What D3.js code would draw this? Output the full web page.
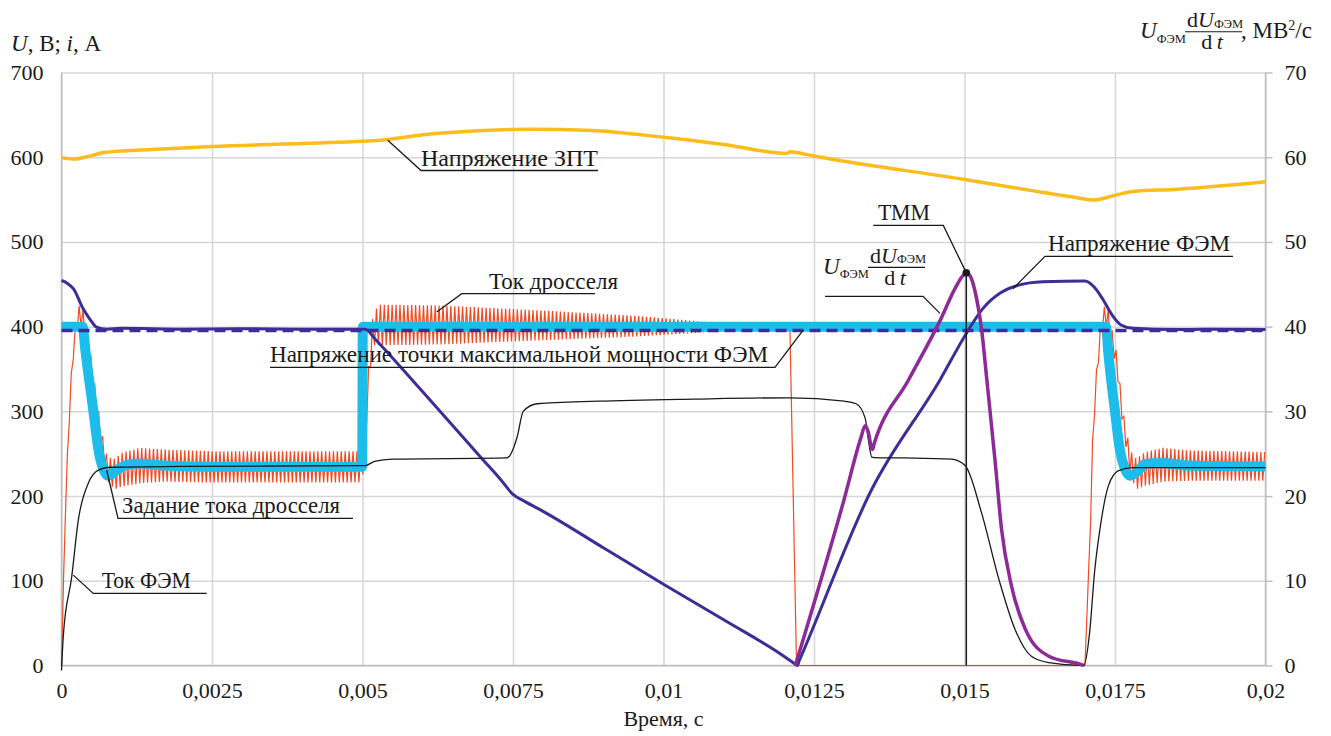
<!DOCTYPE html>
<html>
<head>
<meta charset="utf-8">
<script src="https://cdnjs.cloudflare.com/ajax/libs/d3/7.8.5/d3.min.js"></script>
<style>
  body { margin: 0; background: #fff; }
  svg text { font-family: 'Liberation Serif', 'Times New Roman', serif; fill: #1a1a1a; }
  .grid line { stroke: #d6d6d6; stroke-width: 1.5; }
  .grid path { display: none; }
  .axis path { display: none; }
  .axis line { stroke: #bfbfbf; stroke-width: 1.5; }
  .leader { stroke: #1a1a1a; stroke-width: 1.3; fill: none; }
</style>
</head>
<body>
<svg width="1331" height="736"></svg>
<script>
// ---- data (time in s, left axis in V / A, right axis in MV^2/s) ----
var xTicks = [0, 0.0025, 0.005, 0.0075, 0.01, 0.0125, 0.015, 0.0175, 0.02];
var xTickLabels = ["0", "0,0025", "0,005", "0,0075", "0,01", "0,0125", "0,015", "0,0175", "0,02"];
var leftTicks = [0, 100, 200, 300, 400, 500, 600, 700];
var rightTicks = [0, 10, 20, 30, 40, 50, 60, 70];

// DC link voltage
var dcLink = [[0,599.5],[0.0002,597.8],[0.00045,601],[0.0007,605.5],[0.0015,609],[0.0025,612.6],
  [0.005,618.9],[0.0053,620],[0.006,626.5],[0.007,631.5],[0.0078,633],[0.0088,631.5],[0.01,623.5],
  [0.011,615],[0.01205,604.5],[0.01211,606.5],[0.0122,605.5],[0.0125,601.5],[0.015,573.7],
  [0.0168,553],[0.01715,549.5],[0.0175,555],[0.0178,559.6],[0.0185,562],[0.02,571]];

// PV voltage
var pvVoltage = [[0,454.5],[0.0001,451],[0.0002,444.6],[0.00036,421],[0.00047,409],[0.00058,399.5],
  [0.00075,397],[0.001,398],[0.002,397],[0.003,397.5],[0.004,397],[0.00505,397],[0.0052,386],
  [0.006,323],[0.007,243],[0.0073,219],[0.0075,202],[0.0077,193.5],[0.008,182],[0.009,139],
  [0.01,96],[0.011,54],[0.012,11],[0.01218,2],[0.01222,0],[0.01226,6.5],[0.01346,208],[0.0146,338],
  [0.01503,392],[0.0153,421],[0.0156,440],[0.0159,449],[0.0163,453],[0.0170,454],[0.01715,447],
  [0.0173,432],[0.01745,414],[0.0176,402],[0.0178,398],[0.0185,396.5],[0.019,397],[0.02,396.5]];

// MPP voltage (dashed)
var mppVoltage = [[0,395.5],[0.02,395.5]];

// choke current reference
var currentRef = [[0,400],[0.00035,400],[0.0004,370],[0.00053,300],[0.00062,252],[0.0007,231],
  [0.00078,224],[0.0009,230],[0.0011,237],[0.0013,238.5],[0.0017,236],[0.0025,234.5],
  [0.004995,234.5],[0.005005,400],[0.01735,400],[0.01739,368],[0.0175,300],[0.01758,255],
  [0.01766,233],[0.01775,224],[0.0179,231],[0.018,238],[0.0183,239],[0.0187,236],[0.02,235]];

// choke current: mean value and ripple half-amplitude
var chokeT    = [0,0.00005,0.0001,0.00017,0.00024,0.0003,0.00036,0.00046,0.00056,0.00066,0.00076,0.00088,
  0.001,0.0013,0.0017,0.0025,0.00499,0.00502,0.00507,0.00512,0.00518,0.0053,0.0063,0.008,0.0096,
  0.0107,0.0112,0.0121,0.01221,0.017,0.01709,0.01713,0.0172,0.01728,0.01736,0.01753,0.01763,
  0.01775,0.01785,0.018,0.0183,0.0187,0.02];
var chokeMean = [0,150,250,350,400,415,408,370,318,268,232,226,
  231,236,236,234.5,234.5,240,300,360,398,402,402,401.5,400.5,
  399.5,399,399,0,0,160,267,350,405,415,358,291,
  240,226,232,237,236,235];
var chokeAmp  = [0,2,4,6,8,12,12,10,10,10,14,18,
  20,21,19,18.5,18.5,5,12,15,20,24,23,17.5,12,
  6,1,0,0,0,3,6,8,12,14,10,10,
  14,18,20,20,18,17];
var switchingPeriod = 0.000065;

// PV current
var pvCurrent = [[0,-6],[0.00003,35],[0.00017,105],[0.00028,172],[0.00045,216],[0.00062,231],
  [0.0008,234],[0.002,235],[0.00505,236],[0.0052,241],[0.0055,243.5],[0.0074,245],[0.00757,270],
  [0.00767,300],[0.0079,309],[0.0089,312],[0.0105,314.5],[0.0121,316],[0.0130,312],[0.0132,309],
  [0.01335,292],[0.0134,268],[0.01346,246],[0.0135,245.5],[0.014,245],[0.01478,243.5],[0.01501,236],
  [0.01528,181],[0.01557,102],[0.01584,42.6],[0.01611,11],[0.0164,3.5],[0.01698,0],[0.01708,40],
  [0.01716,110],[0.01725,161],[0.01739,212],[0.01756,230],[0.0178,233.5],[0.02,233.5]];

// U*dU/dt (right axis)
var powerDeriv = [[0.01219,0],[0.0130,19.6],[0.01328,26.9],[0.01335,28.3],[0.01341,27.3],
  [0.01345,25.8],[0.01347,25.5],[0.0135,26.2],[0.01407,33.7],[0.0146,40.8],[0.01485,44.6],
  [0.01497,46.0],[0.01503,46.35],[0.0151,45.9],[0.01518,44],[0.01529,39.3],[0.01537,33.8],
  [0.01551,24],[0.015615,16.1],[0.01578,9.4],[0.01601,4.3],[0.0164,1.1],[0.01694,0.1],[0.01698,0]];

var mppPoint = [0.01503, 46.35];

var notes = [
  {text: "Напряжение ЗПТ", tx: 0.005972, w: 177, x1: 0.005972, x2: 0.008912, y: 584.3, tip: [0.00542, 620]},
  {text: "Ток дросселя", tx: 0.007102, w: 129, x1: 0.006648, x2: 0.008862, y: 438.9, tip: [0.006233, 417.2]},
  {text: "Напряжение точки максимальной мощности ФЭМ", tx: 0.003463, w: 498, x1: 0.003463, x2: 0.011852, y: 352, tip: [0.012317, 395.6]},
  {text: "Задание тока дросселя", tx: 0.001005, w: 218, x1: 0.000939, x2: 0.004842, y: 173.6, tip: [0.000751, 230.5]},
  {text: "Ток ФЭМ", tx: 0.000668, w: 89, x1: 0.000528, x2: 0.002412, y: 85.1, tip: [0.000196, 106.7]},
  {text: "ТММ", tx: 0.013563, w: 52, x1: 0.013485, x2: 0.014648, y: 519.5, tip: [0.01503, 463.5]},
  {text: "", tx: 0, w: 0, x1: 0.012683, x2: 0.014311, y: 435.7, tip: [0.014593, 415.7]},
  {text: "Напряжение ФЭМ", tx: 0.016387, w: 182, x1: 0.016337, x2: 0.01946, y: 482.9, tip: [0.015806, 444.8]}
];

// ---- chart ----
var serif = "'Liberation Serif', 'Times New Roman', serif";
var svg = d3.select("svg");
var x = d3.scaleLinear().domain([0, 0.02]).range([61.5, 1265.5]);
var yL = d3.scaleLinear().domain([0, 700]).range([665.5, 72.5]);
var yR = d3.scaleLinear().domain([0, 70]).range([665.5, 72.5]);

svg.append("g").attr("class", "grid")
  .attr("transform", "translate(0,665.5)")
  .call(d3.axisBottom(x).tickValues(xTicks).tickSize(-593).tickFormat(""));
svg.append("g").attr("class", "grid")
  .attr("transform", "translate(61.5,0)")
  .call(d3.axisLeft(yL).tickValues(leftTicks).tickSize(-1204).tickFormat(""));

// axis lines
svg.append("line").attr("x1", x(0)).attr("x2", x(0)).attr("y1", yL(700)).attr("y2", yL(0))
  .attr("stroke", "#bfbfbf").attr("stroke-width", 1.5);
svg.append("line").attr("x1", x(0.02)).attr("x2", x(0.02)).attr("y1", yL(700)).attr("y2", yL(0))
  .attr("stroke", "#bfbfbf").attr("stroke-width", 1.5);
svg.append("line").attr("x1", x(0)).attr("x2", x(0.02)).attr("y1", yL(0)).attr("y2", yL(0))
  .attr("stroke", "#bfbfbf").attr("stroke-width", 1.5);

svg.append("g").attr("class", "axis")
  .attr("transform", "translate(0,665.5)")
  .call(d3.axisBottom(x).tickValues(xTicks).tickSize(0).tickPadding(17)
    .tickFormat(function(d, i) { return xTickLabels[i]; }));
svg.append("g").attr("class", "axis")
  .attr("transform", "translate(61.5,0)")
  .call(d3.axisLeft(yL).tickValues(leftTicks).tickSize(0).tickPadding(18));
svg.append("g").attr("class", "axis")
  .attr("transform", "translate(1265.5,0)")
  .call(d3.axisRight(yR).tickValues(rightTicks).tickSize(7).tickPadding(12));
svg.selectAll(".axis").attr("font-family", serif).attr("font-size", 22);

var lineL = d3.line().x(function(d) { return x(d[0]); }).y(function(d) { return yL(d[1]); });
var smoothL = d3.line().x(function(d) { return x(d[0]); }).y(function(d) { return yL(d[1]); })
  .curve(d3.curveMonotoneX);
var smoothR = d3.line().x(function(d) { return x(d[0]); }).y(function(d) { return yR(d[1]); })
  .curve(d3.curveMonotoneX);

// DC link voltage
svg.append("path").attr("d", smoothL(dcLink)).attr("fill", "none")
  .attr("stroke", "#fdbb1c").attr("stroke-width", 3.5);

// choke current with switching ripple between read envelopes
var meanAt = d3.scaleLinear().domain(chokeT).range(chokeMean);
var ampAt = d3.scaleLinear().domain(chokeT).range(chokeAmp);
var ripple = [];
var half = switchingPeriod / 2;
for (var k = 0; k * half <= 0.02; k++) {
  var t = k * half;
  ripple.push([t, meanAt(t) + (k % 2 ? 1 : -1) * ampAt(t)]);
}
chokeT.forEach(function(t, i) { if (chokeAmp[i] === 0) ripple.push([t, chokeMean[i]]); });
ripple.sort(function(a, b) { return a[0] - b[0]; });
svg.append("path").attr("d", lineL(ripple)).attr("fill", "none")
  .attr("stroke", "#f04b23").attr("stroke-width", 1.2);

// current reference
svg.append("path").attr("d", smoothL(currentRef)).attr("fill", "none")
  .attr("stroke", "#1dbdeb").attr("stroke-width", 10);

// MPP voltage
svg.append("path").attr("d", lineL(mppVoltage)).attr("fill", "none")
  .attr("stroke", "#3c2d97").attr("stroke-width", 3.5).attr("stroke-dasharray", "11,6");

// PV voltage
svg.append("path").attr("d", smoothL(pvVoltage)).attr("fill", "none")
  .attr("stroke", "#3c2d97").attr("stroke-width", 3);

// PV current
svg.append("path").attr("d", smoothL(pvCurrent)).attr("fill", "none")
  .attr("stroke", "#1a1a1a").attr("stroke-width", 1.3);

// U*dU/dt
svg.append("path").attr("d", smoothR(powerDeriv)).attr("fill", "none")
  .attr("stroke", "#8d2a98").attr("stroke-width", 3.5);

// MPP marker
svg.append("line").attr("x1", x(mppPoint[0])).attr("x2", x(mppPoint[0]))
  .attr("y1", yR(0)).attr("y2", yR(mppPoint[1]))
  .attr("stroke", "#1a1a1a").attr("stroke-width", 1.5);
svg.append("circle").attr("cx", x(mppPoint[0])).attr("cy", yR(mppPoint[1])).attr("r", 3.8)
  .attr("fill", "#1a1a1a");

// annotations
notes.forEach(function(n) {
  var uy = yL(n.y);
  var a = n.tip[0] > n.x2 ? [x(n.x1), uy] : [x(n.x2), uy];
  var b = n.tip[0] > n.x2 ? [x(n.x2), uy] : [x(n.x1), uy];
  svg.append("polyline").attr("class", "leader")
    .attr("points", [a, b, [x(n.tip[0]), yL(n.tip[1])]].map(function(p) { return p.join(","); }).join(" "));
  if (n.text) {
    svg.append("text").attr("x", x(n.tx)).attr("y", uy - 5)
      .style("font-family", serif).attr("font-size", 23)
      .attr("textLength", n.w).attr("lengthAdjust", "spacingAndGlyphs")
      .text(n.text);
  }
});

// fraction label: U_ФЭМ dU_ФЭМ / dt
function fracLabel(x0, yBar) {
  var g = svg.append("g").style("font-family", serif);
  var u = g.append("text").attr("x", x0).attr("y", yBar + 6.5).attr("font-size", 23);
  u.append("tspan").attr("font-style", "italic").text("U");
  u.append("tspan").attr("font-size", 12.5).attr("dy", 4.5).text("ФЭМ");
  var num = g.append("text").attr("x", x0 + 47).attr("y", yBar - 4.5).attr("font-size", 22);
  num.append("tspan").text("d");
  num.append("tspan").attr("font-style", "italic").text("U");
  num.append("tspan").attr("font-size", 12.5).attr("dy", 0.5).text("ФЭМ");
  g.append("line").attr("x1", x0 + 45).attr("x2", x0 + 102).attr("y1", yBar).attr("y2", yBar)
    .attr("stroke", "#1a1a1a").attr("stroke-width", 1.1);
  var den = g.append("text").attr("x", x0 + 72).attr("y", yBar + 17.5).attr("font-size", 22)
    .attr("text-anchor", "middle");
  den.append("tspan").text("d\u2009");
  den.append("tspan").attr("font-style", "italic").text("t");
  return g;
}
fracLabel(1140, 31.7);
var unit = svg.append("text").attr("x", 1241).attr("y", 38.2).attr("font-size", 23)
  .style("font-family", serif);
unit.append("tspan").text(", МВ");
unit.append("tspan").attr("font-size", 14).attr("dy", -8).text("2");
unit.append("tspan").attr("dy", 8).text("/с");

fracLabel(x(0.012683) - 2, yL(470));

// left axis title
var lt = svg.append("text").attr("x", 11).attr("y", 51).attr("font-size", 23)
  .style("font-family", serif);
lt.append("tspan").attr("font-style", "italic").text("U");
lt.append("tspan").text(", В; ");
lt.append("tspan").attr("font-style", "italic").text("i");
lt.append("tspan").text(", А");

// x axis title
svg.append("text").attr("x", x(0.01)).attr("y", 726).attr("text-anchor", "middle")
  .style("font-family", serif).attr("font-size", 22).text("Время, с");
</script>
</body>
</html>
